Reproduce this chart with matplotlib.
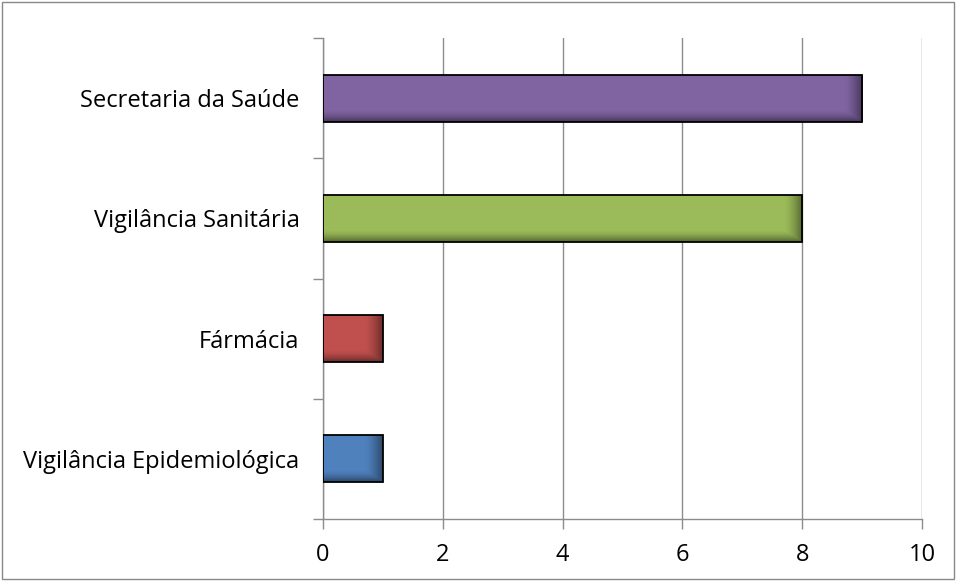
import numpy as np
import matplotlib
matplotlib.use("Agg")
import matplotlib.pyplot as plt
from matplotlib.patches import Rectangle
from matplotlib.colors import to_rgb

categories = ["Vigilância Epidemiológica", "Fármácia", "Vigilância Sanitária", "Secretaria da Saúde"]
values = [1, 1, 8, 9]
colors = ["#4F81BD", "#C0504D", "#9BBB59", "#8064A2"]
x_ticks = [0, 2, 4, 6, 8, 10]

plt.rcParams["font.family"] = ["Open Sans", "DejaVu Sans"]

fig = plt.figure(figsize=(9.56, 5.81), dpi=100)
fig.patch.set_facecolor("white")
fig.add_artist(Rectangle((0.002, 0.003), 0.996, 0.994, transform=fig.transFigure,
                         fill=False, edgecolor="#888888", linewidth=1.0))

ax = fig.add_axes([0.3379, 0.1067, 0.6266, 0.8279])
ax.set_xlim(0, 10)
ax.set_ylim(-0.5, len(categories) - 0.5)

bar_h = 0.39


def shaded_bar(ax, y, w, color):
    base = np.array(to_rgb(color))
    ny, nx = 60, 400
    yy = np.linspace(0, 1, ny)[:, None]          # 0 = bottom, 1 = top
    xx = np.linspace(0, 1, nx)[None, :]
    # darken toward the bottom edge and the right end of the bar
    bottom = np.clip((0.25 - yy) / 0.25, 0, 1) ** 1.5 * 0.45
    px_len = max(w / 10 * 599, 1)
    edge_frac = min(18 / px_len, 0.5)
    right = np.clip((xx - (1 - edge_frac)) / edge_frac, 0, 1) ** 1.5 * 0.45
    shade = 1 - np.maximum(bottom, right)
    img = base[None, None, :] * shade[:, :, None]
    ax.imshow(img[::-1], extent=(0, w, y - bar_h / 2, y + bar_h / 2),
              aspect="auto", interpolation="bilinear", zorder=3)
    ax.add_patch(Rectangle((0, y - bar_h / 2), w, bar_h, fill=False,
                           edgecolor="black", linewidth=1.3, zorder=4))


for i, (v, c) in enumerate(zip(values, colors)):
    shaded_bar(ax, i, v, c)

ax.set_xlim(0, 10)
ax.set_ylim(-0.5, len(categories) - 0.5)

ax.set_xticks(x_ticks)
ax.set_xticklabels([str(t) for t in x_ticks], fontsize=17)
ax.set_yticks(range(len(categories)))
ax.set_yticklabels(categories, fontsize=17)
ax.set_yticks(np.arange(-0.5, len(categories), 1.0), minor=True)

ax.grid(axis="x", color="#8c8c8c", linewidth=1.0, zorder=0)
ax.set_axisbelow(True)
for s in ["top", "right"]:
    ax.spines[s].set_visible(False)
for s in ["left", "bottom"]:
    ax.spines[s].set_color("#8c8c8c")
    ax.spines[s].set_linewidth(1.0)

ax.tick_params(axis="y", which="major", length=0, pad=17)
ax.tick_params(axis="y", which="minor", length=7, color="#8c8c8c", width=1.0)
ax.tick_params(axis="x", length=7, color="#8c8c8c", width=1.0, pad=10)

fig.savefig("out.png", dpi=100, facecolor="white")
